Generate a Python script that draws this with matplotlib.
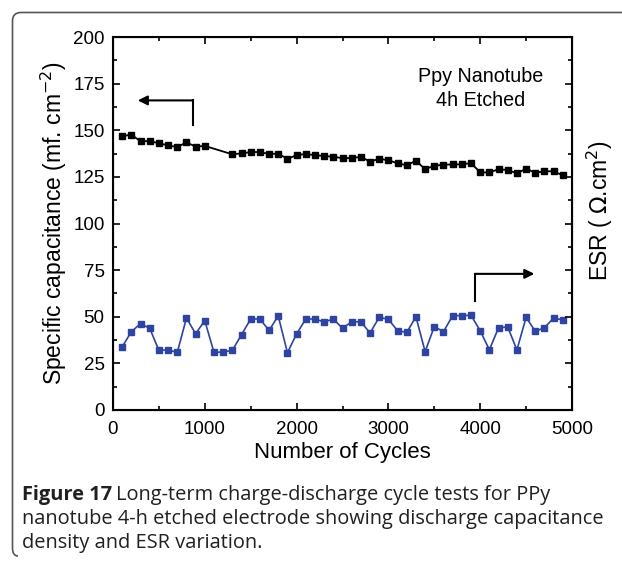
import numpy as np
import matplotlib
matplotlib.use('Agg')
from matplotlib import pyplot as plt
from matplotlib.path import Path
from matplotlib.patches import PathPatch
from matplotlib.ticker import MultipleLocator

# capacitance (black), gap between 1000 and 1300 cycles
cap_cycles = [100, 200, 300, 400, 500, 600, 700, 800, 900, 1000,
              1300, 1400, 1500, 1600, 1700, 1800, 1900, 2000, 2100, 2200,
              2300, 2400, 2500, 2600, 2700, 2800, 2900, 3000, 3100, 3200,
              3300, 3400, 3500, 3600, 3700, 3800, 3900, 4000, 4100, 4200,
              4300, 4400, 4500, 4600, 4700, 4800, 4900]
capacitance = [146.9, 147.6, 144.1, 144.2, 143.0, 141.9, 141.0, 143.5, 141.2, 141.6,
               137.1, 137.6, 138.3, 138.3, 137.3, 137.4, 134.7, 136.6, 137.3, 136.6,
               136.2, 135.8, 135.0, 135.1, 135.7, 133.2, 134.7, 133.9, 132.3, 131.2,
               133.7, 129.1, 131.0, 131.5, 131.7, 131.7, 132.4, 127.4, 127.4, 129.1,
               128.7, 126.9, 129.4, 127.2, 128.0, 128.0, 125.8]

# ESR (blue), every 100 cycles
esr_cycles = list(range(100, 5000, 100))
esr = [33.8, 42.0, 46.3, 43.8, 32.0, 32.2, 30.9, 49.3, 40.9, 47.9,
       30.9, 31.1, 32.0, 40.4, 48.8, 48.8, 42.7, 50.4, 30.7, 40.8,
       48.8, 48.8, 47.2, 48.8, 43.8, 47.3, 47.3, 41.3, 49.7, 48.6,
       42.5, 41.6, 50.0, 31.3, 44.7, 42.0, 50.6, 50.6, 50.8, 42.5,
       32.3, 44.1, 44.5, 32.2, 49.7, 42.2, 44.1, 49.3, 48.3]

W, H = 622, 562
fig = plt.figure(figsize=(W / 100, H / 100), dpi=100)
plt.rcParams['font.family'] = ['Liberation Sans', 'DejaVu Sans']

ax = fig.add_axes([113 / W, 1 - 410 / H, (572 - 113) / W, (410 - 37) / H])
ax.plot(cap_cycles, capacitance, color='black', marker='s', ms=4.5, lw=1.3)
ax.plot(esr_cycles, esr, color='#2e44a0', marker='s', ms=4.5, lw=1.2)
ax.set_xlim(0, 5000)
ax.set_ylim(0, 200)
ax.xaxis.set_major_locator(MultipleLocator(1000))
ax.xaxis.set_minor_locator(MultipleLocator(500))
ax.yaxis.set_major_locator(MultipleLocator(25))
ax.yaxis.set_minor_locator(MultipleLocator(12.5))
ax.tick_params(which='both', direction='in', top=True, right=False,
               labelsize=13.5, width=1.2, pad=6)
ax.tick_params(axis='x', pad=8)
ax.tick_params(which='major', length=5)
ax.tick_params(which='minor', length=3)
for s in ax.spines.values():
    s.set_linewidth(1.5)
ax.set_xlabel('Number of Cycles', fontsize=16, labelpad=3)
ax.set_ylabel('Specific capacitance (mf. cm$^{-2}$)', fontsize=16.5, labelpad=3)

ax2 = ax.twinx()
ax2.set_ylim(0, 200)
ax2.yaxis.set_major_locator(MultipleLocator(25))
ax2.yaxis.set_minor_locator(MultipleLocator(12.5))
ax2.tick_params(which='both', direction='in', labelright=False, width=1.2)
ax2.tick_params(which='major', length=5)
ax2.tick_params(which='minor', length=3)
ax2.set_ylabel('ESR ( $\\Omega$.cm$^{2}$)', fontsize=16.5)
ax2.yaxis.set_label_coords(1.027, 0.535)

ax.text(4000, 172.4, 'Ppy Nanotube\n4h Etched', ha='center', va='center',
        fontsize=14.2, linespacing=1.3)

# arrows
ax.plot([870, 870], [153, 166], color='black', lw=1.5)
ax.annotate('', xy=(270, 166), xytext=(870, 166),
            arrowprops=dict(arrowstyle='-|>', color='black', lw=1.5,
                            mutation_scale=14, shrinkA=0, shrinkB=0))
ax.plot([3945, 3945], [58.5, 73], color='black', lw=1.5)
ax.annotate('', xy=(4590, 73), xytext=(3945, 73),
            arrowprops=dict(arrowstyle='-|>', color='black', lw=1.5,
                            mutation_scale=14, shrinkA=0, shrinkB=0))

# frame bracket
pts = [(622, 12.5), (21, 12.5), (12.5, 12.5), (12.5, 21), (12.5, 548),
       (12.5, 556), (18, 556)]
codes = [Path.MOVETO, Path.LINETO, Path.CURVE3, Path.CURVE3, Path.LINETO,
         Path.CURVE3, Path.CURVE3]
fpts = [(x / W, 1 - y / H) for x, y in pts]
fig.patches.append(PathPatch(Path(fpts, codes), transform=fig.transFigure,
                             fill=False, edgecolor='#555555', lw=1.2))

# caption
cap_font = ['Open Sans', 'DejaVu Sans']
cc = '#231f20'
fs = 14.4
t1 = fig.text(22 / W, 1 - 495 / H, 'Figure 17', fontsize=fs, fontweight='bold',
              family=cap_font, color=cc, va='center')
r = fig.canvas.get_renderer()
bb = t1.get_window_extent(r)
fig.text((bb.x1 + 4) / W, 1 - 495 / H,
         'Long-term charge-discharge cycle tests for PPy',
         fontsize=fs, family=cap_font, color=cc, va='center', fontweight='medium')
fig.text(22 / W, 1 - 519 / H,
         'nanotube 4-h etched electrode showing discharge capacitance',
         fontsize=fs, family=cap_font, color=cc, va='center', fontweight='medium')
fig.text(22 / W, 1 - 543 / H, 'density and ESR variation.',
         fontsize=fs, family=cap_font, color=cc, va='center', fontweight='medium')

fig.savefig('out.png', dpi=100)
